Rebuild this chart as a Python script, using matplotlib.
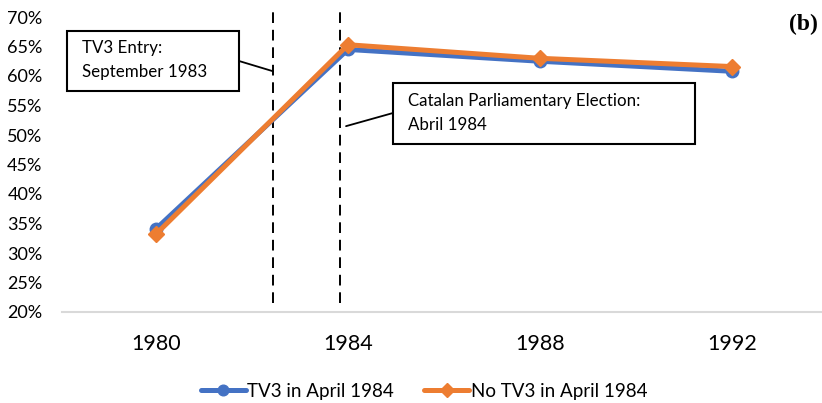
import matplotlib.pyplot as plt
from matplotlib.patches import Rectangle

years = ["1980", "1984", "1988", "1992"]
tv3 = [34.1, 64.5, 62.5, 60.8]
no_tv3 = [33.2, 65.3, 63.0, 61.6]
yticks = list(range(20, 75, 5))

# event dates on the category axis (fraction between 1980 and 1984)
tv3_entry = 0.61
election = 0.96

blue = "#4472C4"
orange = "#ED7D31"
W, H = 822, 403

plt.rcParams['font.family'] = ['Lato', 'DejaVu Sans']

fig = plt.figure(figsize=(W / 100, H / 100), dpi=100)
ax = fig.add_axes([62 / W, 1 - 312 / H, 1 - 62 / W, (312 - 17) / H])

x = range(len(years))
ax.plot(x, tv3, color=blue, lw=3.6, marker='o', ms=9, label="TV3 in April 1984",
        solid_capstyle='round', zorder=3)
ax.plot(x, no_tv3, color=orange, lw=3.6, marker='D', ms=8, label="No TV3 in April 1984",
        solid_capstyle='round', zorder=4)

for ev in [tv3_entry, election]:
    ax.plot([ev, ev], [21.5, 71.5], color='black', lw=1.4, ls=(0, (5.5, 3.5)),
            clip_on=False, zorder=2)

ax.set_xlim(-0.49, 3.47)
ax.set_ylim(20, 70)
ax.set_xticks(list(x))
ax.set_xticklabels(years, fontsize=15.5)
ax.set_yticks(yticks)
ax.set_yticklabels([f"{v}%" for v in yticks], fontsize=13)
ax.tick_params(axis='both', length=0)
ax.tick_params(axis='y', pad=14)
ax.tick_params(axis='x', pad=16)
for s in ['top', 'right', 'left']:
    ax.spines[s].set_visible(False)
ax.spines['bottom'].set_color('#d9d9d9')
ax.spines['bottom'].set_linewidth(1.5)


def fx(px):
    return px / W


def fy(py):
    return 1 - py / H


def note_box(x0, y0, x1, y1, text, tx, ty, edge_px, target):
    fig.patches.append(Rectangle((fx(x0), fy(y1)), fx(x1) - fx(x0), fy(y0) - fy(y1),
                                 transform=fig.transFigure, facecolor='white',
                                 edgecolor='black', lw=1.5, zorder=5))
    fig.text(fx(tx), fy(ty), text, fontsize=12.2, va='top', ha='left',
             linespacing=1.62, zorder=6)
    ax.annotate('', xy=target, xycoords='data',
                xytext=(fx(edge_px[0]), fy(edge_px[1])), textcoords='figure fraction',
                arrowprops=dict(arrowstyle='-', color='black', lw=1.3,
                                shrinkA=0, shrinkB=0))


note_box(67, 31, 239, 91, "TV3 Entry:\nSeptember 1983", 82, 40, (239, 61),
         (tv3_entry, 60.8))
note_box(393, 83, 695, 144, "Catalan Parliamentary Election:\nAbril 1984", 408, 93,
         (393, 113), (election + 0.03, 51.5))

fig.text(fx(818), fy(24), "(b)", fontsize=17, fontweight='bold',
         family='Liberation Serif', ha='right', va='center')

fig.legend(loc='center', bbox_to_anchor=(fx(424), fy(391)), ncol=2, frameon=False,
           fontsize=13.5, handlelength=2.4, handletextpad=0.1, columnspacing=1.6,
           markerscale=0.85)

fig.savefig("out.png", dpi=100)
